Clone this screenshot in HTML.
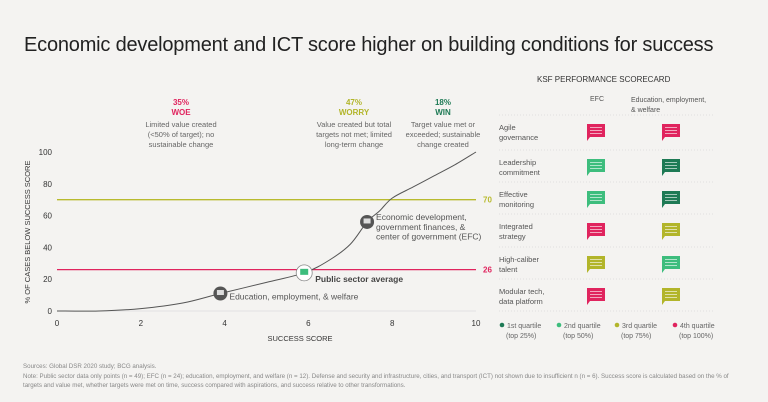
<!DOCTYPE html>
<html><head><meta charset="utf-8"><style>
body{margin:0;background:#f4f3f1;font-family:"Liberation Sans",sans-serif;}
#wrap{position:relative;width:768px;height:402px;overflow:hidden;background:#f4f3f1;}
.t{position:absolute;white-space:nowrap;}
</style></head><body>
<div id="wrap">
<div class="t" style="left:24px;top:34px;font-size:20px;color:#222;letter-spacing:-0.2px">Economic development and ICT score higher on building conditions for success</div>
<svg id="chart" width="768" height="402" style="position:absolute;left:0;top:0" font-family="Liberation Sans, sans-serif"></svg>
<div class="t" style="left:537px;top:75px;font-size:8px;color:#333">KSF PERFORMANCE SCORECARD</div>
<div class="t" style="left:590px;top:96px;font-size:7px;color:#555">EFC</div>
<div class="t" style="left:631px;top:96px;font-size:7px;color:#555;line-height:9.5px">Education, employment,<br>&amp; welfare</div>
<div class="t" style="left:23px;top:362px;font-size:6.2px;color:#888;line-height:9.5px">Sources: Global DSR 2020 study; BCG analysis.<br>Note: Public sector data only points (n = 49); EFC (n = 24); education, employment, and welfare (n = 12). Defense and security and infrastructure, cities, and transport (ICT) not shown due to insufficient n (n = 6). Success score is calculated based on the % of<br>targets and value met, whether targets were met on time, success compared with aspirations, and success relative to other transformations.</div>
</div>
<script>
const xTicks=[0,2,4,6,8,10];
const yTicks=[0,20,40,60,80,100];
const curveX=[0,1,2,3,3.9,5,5.9,6.5,7,7.4,7.7,8,8.5,9,9.5,10];
const curveY=[0,0,1.5,5,11,18,24,32,42,56,63,71,78,85,92,100];
const refLines=[70,26];
const markerX=[3.9,5.9,7.4];
const markerY=[11,24,56];
const rowLabels=[["Agile","governance"],["Leadership","commitment"],["Effective","monitoring"],["Integrated","strategy"],["High-caliber","talent"],["Modular tech,","data platform"]];
const efcQ=[4,2,2,4,3,4];
const eduQ=[4,1,1,3,2,3];
const legendLabels=[["1st quartile","(top 25%)"],["2nd quartile","(top 50%)"],["3rd quartile","(top 75%)"],["4th quartile","(top 100%)"]];
const qColor={1:"#1e7a55",2:"#3dbd7d",3:"#b2b52a",4:"#e0245e"};
const NS="http://www.w3.org/2000/svg";
const svg=document.getElementById('chart');
const X=v=>57+v*41.9, Y=v=>311-v*1.59;
function mk(tag,a,p){const e=document.createElementNS(NS,tag);for(const k in a)e.setAttribute(k,a[k]);(p||svg).appendChild(e);return e;}
function tx(x,y,s,a,p){const e=mk('text',Object.assign({x:x,y:y},a),p);e.textContent=s;return e;}
mk('line',{x1:X(0),x2:X(10),y1:Y(0),y2:Y(0),stroke:'#ddd','stroke-width':0.7});
yTicks.forEach(v=>{const t=tx(52,Y(v)+3,v,{'font-size':8,fill:'#333','text-anchor':'end'});});
xTicks.forEach(v=>{const t=tx(X(v),326,v,{'font-size':8,fill:'#333','text-anchor':'middle'});});
let yt=tx(0,0,'% OF CASES BELOW SUCCESS SCORE',{'font-size':7.5,fill:'#333','text-anchor':'middle',transform:'translate(30,232) rotate(-90)'});

let xt=tx(300,341,'SUCCESS SCORE',{'font-size':7.5,fill:'#333','text-anchor':'middle'});

const rc=['#b8ba2e','#e0245e'];
refLines.forEach((v,i)=>{const l=mk('line',{x1:X(0),x2:X(10),y1:Y(v),y2:Y(v),stroke:rc[i],'stroke-width':1.3});

const t=tx(X(10)+7,Y(v)+3,v,{'font-size':8,'font-weight':'bold',fill:rc[i]});});
let d='';for(let i=0;i<curveX.length;i++){const px=X(curveX[i]),py=Y(curveY[i]);if(i==0)d+='M'+px+','+py;else{const p0=[X(curveX[Math.max(i-2,0)]),Y(curveY[Math.max(i-2,0)])],p1=[X(curveX[i-1]),Y(curveY[i-1])],p3=[X(curveX[Math.min(i+1,curveX.length-1)]),Y(curveY[Math.min(i+1,curveX.length-1)])];
d+=' C'+(p1[0]+(px-p0[0])/6)+','+(p1[1]+(py-p0[1])/6)+' '+(px-(p3[0]-p1[0])/6)+','+(py-(p3[1]-p1[1])/6)+' '+px+','+py;}}
const cv=mk('path',{d:d,fill:'none',stroke:'#555','stroke-width':1});

const mLab=[["Education, employment, & welfare"],["Public sector average"],["Economic development,","government finances, &","center of government (EFC)"]];
markerX.forEach((v,i)=>{const cx=X(v),cy=Y(markerY[i]);const g=mk('g',{});

if(i==1){mk('circle',{cx:cx,cy:cy,r:8,fill:'#fff',stroke:'#888','stroke-width':0.8},g);mk('rect',{x:cx-4,y:cy-4,width:8,height:6,fill:'#3dbd7d'},g);}
else{mk('circle',{cx:cx,cy:cy,r:7,fill:'#555'},g);mk('rect',{x:cx-3.5,y:cy-3.5,width:7,height:5,fill:'#ddd'},g);}
const lx=cx+(i==1?11:9);
mLab[i].forEach((s,j)=>{tx(lx,(i==2?cy-2:cy+(i==1?9:6))+j*9.8,s,{'font-size':8.5,'font-weight':i==1?'bold':'normal',fill:i==1?'#444':'#555'},g);});});
const hd=[[181,'35%','WOE','#e0245e',['Limited value created','(<50% of target); no','sustainable change']],[354,'47%','WORRY','#b2b52a',['Value created but total','targets not met; limited','long-term change']],[443,'18%','WIN','#1e7a55',['Target value met or','exceeded; sustainable','change created']]];
hd.forEach((h,i)=>{const g=mk('g',{});
tx(h[0],105,h[1],{'font-size':8,'font-weight':'bold',fill:h[3],'text-anchor':'middle'},g);
tx(h[0],115,h[2],{'font-size':8,'font-weight':'bold',fill:h[3],'text-anchor':'middle'},g);
h[4].forEach((s,j)=>tx(h[0],127+j*10,s,{'font-size':7.5,fill:'#666','text-anchor':'middle'},g));});
const seps=[115,150,182,214,247,279,311];
seps.forEach(y=>mk('line',{x1:499,x2:714,y1:y,y2:y,stroke:'#ccc','stroke-width':0.6,'stroke-dasharray':'1,2'}));
function icon(x,y,c,p){const g=mk('g',{},p);mk('path',{d:`M${x},${y}h18v13h-15l-3,4z`,fill:c},g);
for(let k=0;k<3;k++)mk('rect',{x:x+3,y:y+3+k*3,width:12,height:1,fill:'rgba(255,255,255,0.6)'},g);return g;}
rowLabels.forEach((r,i)=>{const top=seps[i];const g=mk('g',{});
tx(499,top+15,r[0],{'font-size':7.5,fill:'#555'},g);tx(499,top+25,r[1],{'font-size':7.5,fill:'#555'},g);
const a=icon(587,top+9,qColor[efcQ[i]],g);
const b=icon(662,top+9,qColor[eduQ[i]],g);});
const lx=[502,559,617,675];
legendLabels.forEach((l,i)=>{const g=mk('g',{});
mk('circle',{cx:lx[i],cy:325,r:2.3,fill:qColor[i+1]},g);
tx(lx[i]+5,328,l[0],{'font-size':7,fill:'#666'},g);tx(lx[i]+4,338,l[1],{'font-size':7,fill:'#666'},g);});
</script>
</body></html>
